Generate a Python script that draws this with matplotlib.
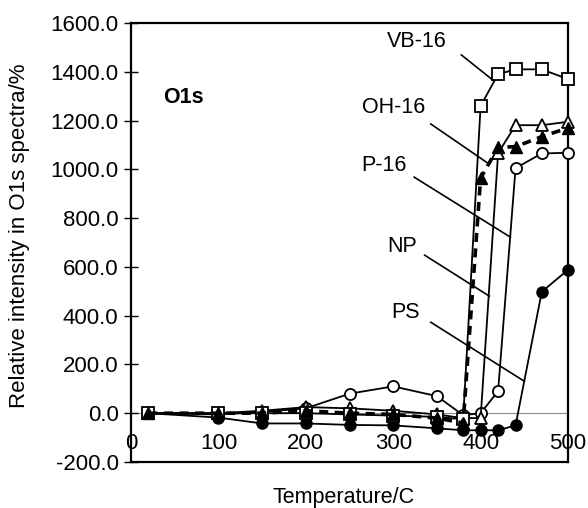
import matplotlib
matplotlib.use("Agg")
import matplotlib.pyplot as plt

plt.rcParams['font.family'] = ['Liberation Sans', 'DejaVu Sans']

# temperatures (C)
temp = [20, 100, 150, 200, 250, 300, 350, 380, 400, 420, 440, 470, 500]

# relative intensity in O1s spectra (%)
vb16 = [0, 0, 0, 0, -5, -10, -15, -25, 1260, 1390, 1410, 1410, 1370]
oh16 = [0, 0, 0, 10, 0, -5, -20, -40, 964, 1090, 1093, 1134, 1170]
p16 = [0, -5, 5, 20, 80, 110, 70, -8, 0, 90, 1005, 1065, 1068]
np_ = [0, 0, 10, 25, 20, 10, -5, -20, -20, 1066, 1181, 1181, 1195]
ps = [0, -18, -42, -42, -48, -50, -62, -70, -70, -70, -50, 498, 588]

labels = ["VB-16", "OH-16", "P-16", "NP", "PS"]
# label text position and leader line (start, end) in data units
label_pos = [(293, 1524), (264, 1253), (264, 1015), (293, 683), (298, 412)]
leader_start = [(378, 1469), (343, 1186), (324, 968), (336, 648), (343, 373)]
leader_end = [(414, 1366), (408, 1026), (434, 722), (410, 480), (450, 131)]

fig = plt.figure(figsize=(5.88, 5.08), dpi=100)
ax = fig.add_axes([0.2228, 0.0906, 0.7432, 0.8641])

ax.axhline(0, color='#888888', lw=0.8, zorder=1)

ms = 8
ax.plot(temp, ps, '-o', color='black', lw=1.3, ms=ms, mfc='black', mec='black', clip_on=False, zorder=3)
ax.plot(temp, p16, '-o', color='black', lw=1.3, ms=ms, mfc='white', mec='black', mew=1.3, clip_on=False, zorder=4)
ax.plot(temp, np_, '-^', color='black', lw=1.3, ms=ms, mfc='white', mec='black', mew=1.3, clip_on=False, zorder=5)
ax.plot(temp, vb16, '-s', color='black', lw=1.3, ms=ms, mfc='white', mec='black', mew=1.3, clip_on=False, zorder=6)
ax.plot(temp, oh16, '^', color='black', ls=(0, (2.5, 1.8)), lw=2.6, ms=ms, mfc='black', mec='black', clip_on=False, zorder=7)

for lab, tp, s, e in zip(labels, label_pos, leader_start, leader_end):
    ax.text(tp[0], tp[1], lab, fontsize=15.5, ha='left', va='center')
    ax.plot([s[0], e[0]], [s[1], e[1]], color='black', lw=1.2, zorder=8)

ax.text(37, 1296, "O1s", fontsize=15.5, fontweight='bold', ha='left', va='center')

ax.set_xlim(0, 500)
ax.set_ylim(-200, 1600)
ax.set_yticks(range(-200, 1601, 200))
ax.set_yticklabels(["%.1f" % v for v in range(-200, 1601, 200)])
ax.set_xticks(range(0, 501, 100))
ax.tick_params(axis='y', direction='inout', length=10, width=1, labelsize=16, pad=4)
ax.tick_params(axis='x', length=0, labelsize=16, pad=-21)

for sp in ax.spines.values():
    sp.set_linewidth(1.6)

ax.set_ylabel("Relative intensity in O1s spectra/%", fontsize=16)
ax.yaxis.set_label_coords(-0.232, 0.515)
fig.text(344 / 588, 1 - 497 / 508, "Temperature/C", fontsize=15.5, ha='center', va='center')

fig.savefig("out.png", dpi=100)
